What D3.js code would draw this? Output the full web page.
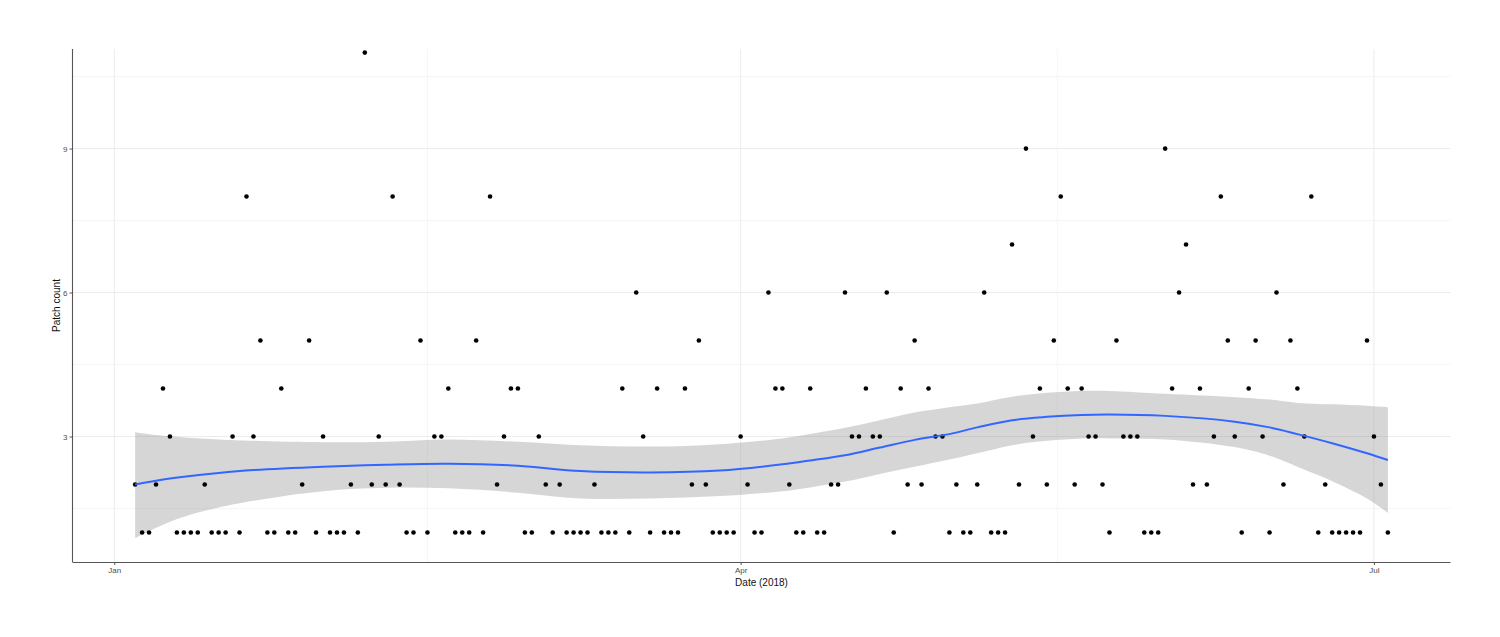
<!DOCTYPE html>
<html>
<head>
<meta charset="utf-8">
<script src="https://cdn.jsdelivr.net/npm/d3@7"></script>
<style>
  html, body { margin: 0; padding: 0; background: #ffffff; }
  svg { display: block; }
  text { font-family: "Liberation Sans", Arial, Helvetica, sans-serif; }
</style>
</head>
<body>
<svg id="chart" width="1500" height="637"></svg>
<script>
// ---------------- data ----------------
const firstDate = "2018-01-04";
const lastDate = "2018-07-03";
// one patch count per day, Jan 4 .. Jul 3 2018
const patchCounts = [
  2,1,1,2,4,3,1,1,1,1,2,1,1,1,3,1,8,3,5,1,1,4,1,1,2,5,1,3,1,1,1,2,1,11,2,3,2,8,2,1,1,5,1,3,3,4,
  1,1,1,5,1,8,2,3,4,4,1,1,3,2,1,2,1,1,1,1,2,1,1,1,4,1,6,3,1,4,1,1,1,4,2,5,2,1,1,1,1,3,2,1,1,
  6,4,4,2,1,1,4,1,1,2,2,6,3,3,4,3,3,6,1,4,2,5,2,4,3,3,1,2,1,1,2,6,1,1,1,7,2,9,3,4,2,5,8,4,2,4,3,3,2,1,
  5,3,3,3,1,1,1,9,4,6,7,2,4,2,3,8,5,3,1,4,5,3,1,6,2,5,4,3,8,1,2,1,1,1,1,1,5,3,2,1
];
// smoothed trend (loess) and its confidence band
const smoothDates = ["2018-01-04","2018-01-07","2018-01-11","2018-01-16","2018-01-21","2018-01-31",
  "2018-02-09","2018-02-18","2018-02-28","2018-03-09","2018-03-19","2018-03-29","2018-04-07",
  "2018-04-11","2018-04-16","2018-04-21","2018-04-26","2018-05-01","2018-05-05","2018-05-10",
  "2018-05-15","2018-05-20","2018-05-24","2018-06-01","2018-06-11","2018-06-16","2018-06-20",
  "2018-06-25","2018-06-30","2018-07-03"];
const smoothFit = [2.00,2.08,2.16,2.24,2.30,2.37,2.41,2.43,2.39,2.28,2.25,2.29,2.42,2.50,2.61,2.77,
  2.93,3.05,3.19,3.34,3.41,3.45,3.46,3.43,3.31,3.19,3.05,2.86,2.65,2.51];
const smoothHigh = [3.09,3.03,2.98,2.94,2.91,2.88,2.89,2.94,2.89,2.82,2.79,2.84,2.96,3.05,3.18,3.34,
  3.50,3.61,3.69,3.83,3.91,3.95,3.95,3.89,3.82,3.77,3.70,3.67,3.64,3.61];
const smoothLow = [0.88,1.10,1.33,1.52,1.66,1.86,1.93,1.92,1.83,1.71,1.71,1.76,1.86,1.94,2.06,2.22,
  2.37,2.52,2.65,2.82,2.91,2.96,2.96,2.94,2.78,2.60,2.37,2.07,1.71,1.41];
const yTicks = [3, 6, 9];
const yMinorTicks = [1.5, 4.5, 7.5, 10.5];
const xTickLabels = ["Jan", "Apr", "Jul"];
const xTickDates = ["2018-01-01", "2018-04-01", "2018-07-01"];
const xMinorDates = ["2018-02-15T00:00:00Z", "2018-05-16T12:00:00Z"];
const xTitle = "Date (2018)";
const yTitle = "Patch count";

// ---------------- layout ----------------
const parse = d3.utcParse("%Y-%m-%d");
const start = parse(firstDate), end = parse(lastDate);
const days = d3.utcDay.range(start, d3.utcDay.offset(end, 1));
const points = days.map((d, i) => ({ date: d, value: patchCounts[i] }));
const smooth = smoothDates.map((d, i) => ({ date: parse(d), fit: smoothFit[i], hi: smoothHigh[i], lo: smoothLow[i] }));

const panel = { left: 72.5, right: 1450.5, top: 49, bottom: 562 };
const pad = d3.utcDay.count(start, end) * 0.05;
const x = d3.scaleUtc()
  .domain([d3.utcHour.offset(start, -pad * 24), d3.utcHour.offset(end, pad * 24)])
  .range([panel.left, panel.right]);
const y = d3.scaleLinear()
  .domain([0.385, 11.075])
  .range([panel.bottom, panel.top]);

const svg = d3.select("#chart");
svg.append("rect").attr("width", 1500).attr("height", 637).attr("fill", "#ffffff");

const grid = svg.append("g");
// minor grid
grid.selectAll("line.ymin").data(yMinorTicks).join("line")
  .attr("x1", panel.left).attr("x2", panel.right)
  .attr("y1", d => y(d)).attr("y2", d => y(d))
  .attr("stroke", "#f3f3f3").attr("stroke-width", 0.8);
grid.selectAll("line.xmin").data(xMinorDates).join("line")
  .attr("y1", panel.top).attr("y2", panel.bottom)
  .attr("x1", d => x(new Date(d))).attr("x2", d => x(new Date(d)))
  .attr("stroke", "#f3f3f3").attr("stroke-width", 0.8);
// major grid
grid.selectAll("line.ymaj").data(yTicks).join("line")
  .attr("x1", panel.left).attr("x2", panel.right)
  .attr("y1", d => y(d)).attr("y2", d => y(d))
  .attr("stroke", "#ececec").attr("stroke-width", 1);
grid.selectAll("line.xmaj").data(xTickDates).join("line")
  .attr("y1", panel.top).attr("y2", panel.bottom)
  .attr("x1", d => x(parse(d))).attr("x2", d => x(parse(d)))
  .attr("stroke", "#ececec").attr("stroke-width", 1);

// confidence band
const area = d3.area()
  .x(d => x(d.date)).y0(d => y(d.lo)).y1(d => y(d.hi))
  .curve(d3.curveCatmullRom.alpha(0.5));
svg.append("path").datum(smooth).attr("d", area)
  .attr("fill", "#999999").attr("fill-opacity", 0.4);

// points
svg.append("g").selectAll("circle").data(points).join("circle")
  .attr("cx", d => x(d.date)).attr("cy", d => y(d.value))
  .attr("r", 2.3).attr("fill", "#000000");

// smooth line
const line = d3.line()
  .x(d => x(d.date)).y(d => y(d.fit))
  .curve(d3.curveCatmullRom.alpha(0.5));
svg.append("path").datum(smooth).attr("d", line)
  .attr("fill", "none").attr("stroke", "#3366FF").attr("stroke-width", 2);

// axes
const xAxis = d3.axisBottom(x)
  .tickValues(xTickDates.map(parse))
  .tickFormat((d, i) => xTickLabels[i])
  .tickSize(3).tickPadding(2);
const gx = svg.append("g").attr("transform", `translate(0,${panel.bottom})`).call(xAxis);
gx.select(".domain").attr("stroke", "#555555").attr("stroke-width", 1.1)
  .attr("d", `M${panel.left},0.5H${panel.right}`);
gx.selectAll(".tick line").attr("stroke", "#555555");
gx.selectAll(".tick text").attr("fill", "#4d4d4d").attr("font-size", 8)
  .attr("font-family", "Liberation Sans, Arial, sans-serif");

const yAxis = d3.axisLeft(y).tickValues(yTicks).tickSize(3).tickPadding(2);
const gy = svg.append("g").attr("transform", `translate(${panel.left},0)`).call(yAxis);
gy.select(".domain").attr("stroke", "#555555").attr("stroke-width", 1.1)
  .attr("d", `M0,${panel.top}V${panel.bottom}`);
gy.selectAll(".tick line").attr("stroke", "#555555");
gy.selectAll(".tick text").attr("fill", "#4d4d4d").attr("font-size", 8)
  .attr("font-family", "Liberation Sans, Arial, sans-serif");

// titles
svg.append("text").attr("x", (panel.left + panel.right) / 2).attr("y", 586)
  .attr("text-anchor", "middle").attr("font-size", 10).attr("fill", "#111")
  .text(xTitle);
svg.append("text")
  .attr("transform", `translate(60,${(panel.top + panel.bottom) / 2}) rotate(-90)`)
  .attr("text-anchor", "middle").attr("font-size", 10).attr("fill", "#111")
  .text(yTitle);
</script>
</body>
</html>
